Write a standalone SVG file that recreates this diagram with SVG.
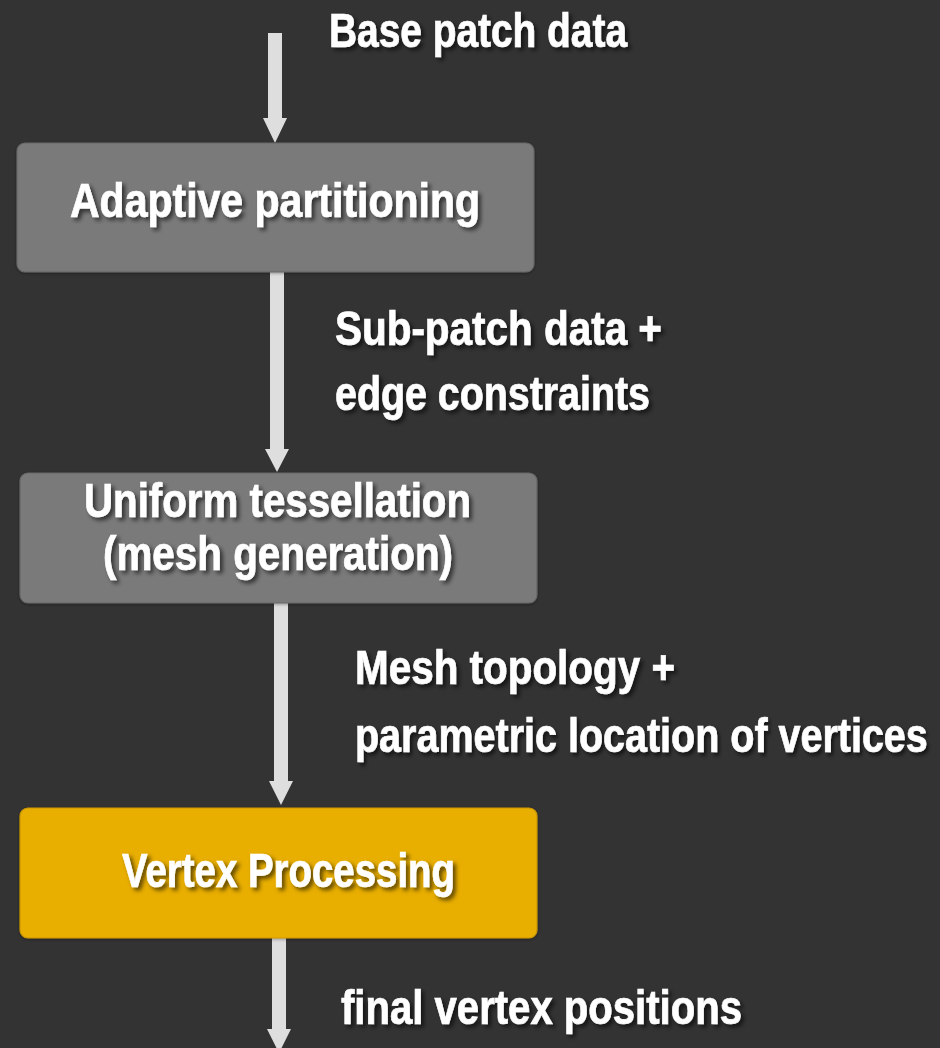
<svg xmlns="http://www.w3.org/2000/svg" width="940" height="1048" viewBox="0 0 940 1048">
  <defs>
    <filter id="tshadow" x="-10%" y="-30%" width="120%" height="160%">
      <feDropShadow dx="3" dy="3" stdDeviation="2.2" flood-color="#000" flood-opacity="0.6"/>
    </filter>
    <filter id="bshadow" x="-5%" y="-10%" width="110%" height="120%">
      <feDropShadow dx="0" dy="1" stdDeviation="1.5" flood-color="#000" flood-opacity="0.35"/>
    </filter>
  </defs>
  <style>
    .t { font-family: "Liberation Sans", Arial, sans-serif; font-weight: bold; font-size: 48px; fill: #ffffff; stroke: #ffffff; stroke-width: 0.7; filter: url(#tshadow); }
    .box { stroke-width: 1.2; filter: url(#bshadow); }
    .gray { fill: #7a7a7a; stroke: #666666; }
    .yellow { fill: #e8ae00; stroke: #c99600; }
    .arrow { fill: #dedede; }
  </style>
  <rect x="0" y="0" width="940" height="1048" fill="#333333"/>

  <g id="connectors">
    <path class="arrow" d="M268,33 H282 V118 H287 L275,143 L263,118 H268 Z"/>
    <path class="arrow" d="M270,272 H284 V449 H289 L277,472 L265,449 H270 Z"/>
    <path class="arrow" d="M274,603 H288 V781 H293 L281,805 L269,781 H274 Z"/>
    <path class="arrow" d="M272,938 H286 V1029 H291 L279,1053 L267,1029 H272 Z"/>
  </g>

  <g id="label-base">
    <text class="t" x="329" y="47" textLength="298" lengthAdjust="spacingAndGlyphs">Base patch data</text>
  </g>

  <g id="node-adaptive">
    <rect class="box gray" x="17" y="143" width="517" height="129" rx="8"/>
    <text class="t" x="70" y="217" textLength="410" lengthAdjust="spacingAndGlyphs">Adaptive partitioning</text>
  </g>

  <g id="label-subpatch">
    <text class="t" x="335" y="345" textLength="327" lengthAdjust="spacingAndGlyphs">Sub-patch data +</text>
    <text class="t" x="335" y="410" textLength="315" lengthAdjust="spacingAndGlyphs">edge constraints</text>
  </g>

  <g id="node-uniform">
    <rect class="box gray" x="20" y="473" width="517" height="130" rx="8"/>
    <text class="t" x="84" y="517" textLength="387" lengthAdjust="spacingAndGlyphs">Uniform tessellation</text>
    <text class="t" x="103" y="570" textLength="350" lengthAdjust="spacingAndGlyphs">(mesh generation)</text>
  </g>

  <g id="label-mesh">
    <text class="t" x="355" y="684" textLength="320" lengthAdjust="spacingAndGlyphs">Mesh topology +</text>
    <text class="t" transform="translate(355 752) scale(0.8 1)" x="0" y="0" textLength="716" lengthAdjust="spacingAndGlyphs">parametric location of vertices</text>
  </g>

  <g id="node-vertex">
    <rect class="box yellow" x="20" y="808" width="517" height="130" rx="8"/>
    <text class="t" x="122" y="887" textLength="333" lengthAdjust="spacingAndGlyphs">Vertex Processing</text>
  </g>

  <g id="label-final">
    <text class="t" x="341" y="1024" textLength="401" lengthAdjust="spacingAndGlyphs">final vertex positions</text>
  </g>
</svg>
